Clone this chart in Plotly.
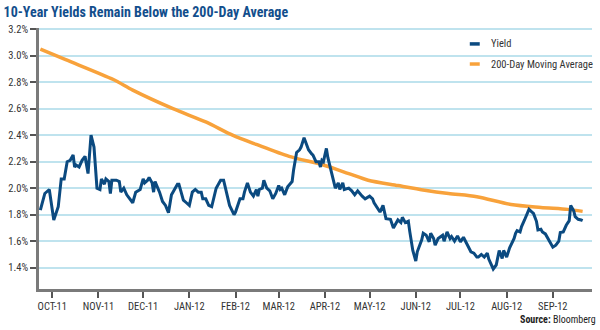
import pandas as pd
import plotly.graph_objects as go

start_date = "2011-09-23"

# 10-year yield (%) — day offsets from start_date and values
yield_days = [0, 3, 6, 9, 12, 14, 16, 18, 20, 22, 23, 24, 26, 28, 30, 32, 34, 36, 38, 40,
              41, 43, 44, 46, 47, 48, 51, 53, 54, 56, 58, 62, 64, 67, 69, 70, 72, 73, 75, 76,
              77, 80, 82, 84, 86, 88, 89, 92, 93, 96, 98, 100, 102, 104, 106, 108, 109, 111, 113, 115,
              118, 121, 123, 125, 127, 130, 131, 134, 136, 137, 139, 141, 143, 145, 146, 147, 149, 150, 152, 154,
              156, 158, 160, 161, 162, 164, 166, 169, 170, 172, 174, 175, 177, 178, 180, 182, 183, 185, 187, 188,
              189, 190, 192, 193, 195, 197, 198, 200, 201, 203, 204, 207, 209, 211, 213, 216, 218, 221, 223, 224,
              226, 228, 230, 232, 235, 237, 238, 240, 242, 243, 245, 247, 248, 250, 252, 253, 256, 257, 259, 261,
              262, 264, 265, 267, 270, 271, 273, 275, 276, 278, 280, 282, 284, 287, 289, 291, 293, 294, 296, 298,
              300, 301, 303, 304, 306, 308, 309, 310, 311, 313, 315, 316, 318, 319, 320, 322, 323, 325, 327, 328,
              330, 331, 333, 334, 336, 337, 339, 340, 342, 344, 346, 348, 349, 351, 353, 355, 356, 358, 359, 361,
              363, 364]
yield_vals = [1.835, 1.96, 1.99, 1.76, 1.86, 2.07, 2.07, 2.20, 2.21, 2.25, 2.16, 2.175, 2.16, 2.21, 2.24, 2.11, 2.40, 2.31, 2.00, 1.99,
              2.07, 2.03, 2.07, 2.05, 1.96, 2.06, 2.06, 2.05, 1.97, 2.00, 1.95, 1.89, 1.97, 1.99, 2.07, 2.04, 2.06, 2.08, 2.04, 1.97,
              2.05, 1.97, 1.90, 1.87, 1.815, 1.95, 1.97, 2.03, 2.03, 1.91, 1.89, 1.87, 1.97, 1.99, 1.97, 1.97, 1.92, 1.92, 1.87, 1.86,
              2.00, 2.06, 2.06, 1.96, 1.87, 1.80, 1.82, 1.92, 1.92, 1.97, 2.04, 1.97, 1.94, 1.99, 1.94, 1.99, 2.00, 2.06, 2.00, 1.98,
              1.92, 1.96, 2.02, 1.99, 2.00, 1.95, 2.01, 2.05, 2.14, 2.27, 2.29, 2.31, 2.38, 2.35, 2.29, 2.26, 2.25, 2.20, 2.20, 2.16,
              2.21, 2.20, 2.30, 2.23, 2.14, 2.05, 2.00, 2.04, 1.99, 2.04, 1.99, 2.00, 1.98, 1.95, 1.98, 1.94, 1.92, 1.94, 1.92, 1.89,
              1.85, 1.82, 1.87, 1.77, 1.765, 1.70, 1.72, 1.76, 1.74, 1.78, 1.74, 1.75, 1.67, 1.53, 1.45, 1.52, 1.61, 1.66, 1.645, 1.595,
              1.66, 1.62, 1.57, 1.62, 1.645, 1.60, 1.67, 1.62, 1.635, 1.60, 1.64, 1.595, 1.63, 1.57, 1.52, 1.51, 1.48, 1.48, 1.50, 1.48,
              1.51, 1.465, 1.41, 1.39, 1.42, 1.53, 1.50, 1.47, 1.53, 1.48, 1.55, 1.57, 1.62, 1.66, 1.68, 1.67, 1.71, 1.76, 1.81, 1.84,
              1.82, 1.81, 1.75, 1.685, 1.69, 1.67, 1.655, 1.635, 1.595, 1.555, 1.57, 1.60, 1.665, 1.67, 1.72, 1.755, 1.87, 1.83, 1.785, 1.765,
              1.76, 1.755]

# 200-day moving average (%)
ma_days = [0, 17, 49, 62, 89, 111, 129, 145, 167, 190, 207, 220, 240, 258, 274, 293, 316, 336, 354, 364]
ma_vals = [3.05, 2.97, 2.82, 2.74, 2.60, 2.50, 2.40, 2.33, 2.24, 2.175, 2.11, 2.06, 2.02, 1.985, 1.96, 1.936, 1.877, 1.855, 1.84, 1.825]

tick_dates = ["2011-10-01", "2011-11-01", "2011-12-01", "2012-01-01", "2012-02-01", "2012-03-01",
              "2012-04-01", "2012-05-01", "2012-06-01", "2012-07-01", "2012-08-01", "2012-09-01"]
tick_labels = ["OCT-11", "NOV-11", "DEC-11", "JAN-12", "FEB-12", "MAR-12",
               "APR-12", "MAY-12", "JUN-12", "JUL-12", "AUG-12", "SEP-12"]
y_ticks = [1.4, 1.6, 1.8, 2.0, 2.2, 2.4, 2.6, 2.8, 3.0, 3.2]
y_labels = ["1.4%", "1.6%", "1.8%", "2.0%", "2.2%", "2.4%", "2.6%", "2.8%", "3.0%", "3.2%"]

series_names = ["Yield", "200-Day Moving Average"]
title_text = "10-Year Yields Remain Below the 200-Day Average"

BLUE = "#0b4a80"
ORANGE = "#f8a23b"
FONT = "Roboto Condensed, Liberation Sans Narrow, Roboto, sans-serif"

t0 = pd.Timestamp(start_date)
yield_x = [t0 + pd.Timedelta(days=d) for d in yield_days]
ma_x = [t0 + pd.Timedelta(days=d) for d in ma_days]

fig = go.Figure()
fig.add_trace(go.Scatter(x=ma_x, y=ma_vals, mode="lines", name=series_names[1],
                         line=dict(color=ORANGE, width=3.5, shape="spline", smoothing=0.8),
                         showlegend=False))
fig.add_trace(go.Scatter(x=yield_x, y=yield_vals, mode="lines", name=series_names[0],
                         line=dict(color=BLUE, width=3), showlegend=False))

# manual legend
leg_y = [0.939, 0.862]
leg_cols = [BLUE, ORANGE]
for yy, col, name in zip(leg_y, leg_cols, series_names):
    fig.add_shape(type="line", xref="paper", yref="paper", x0=0.779, x1=0.797, y0=yy, y1=yy,
                  line=dict(color=col, width=3.5))
    fig.add_annotation(xref="paper", yref="paper", x=0.813, y=yy, text=name, showarrow=False,
                       xanchor="left", yanchor="middle", font=dict(family=FONT, size=10.5, color="#333333"))

fig.add_annotation(xref="paper", yref="paper", x=1.011, y=-0.115,
                   text="<b>Source:</b> Bloomberg", showarrow=False,
                   xanchor="right", yanchor="middle", font=dict(family=FONT, size=10, color="#222222"))

fig.update_layout(
    width=600, height=330,
    margin=dict(l=36, r=8, t=28, b=41),
    plot_bgcolor="white", paper_bgcolor="white",
    title=dict(text="<b>" + title_text + "</b>", x=0.006, xanchor="left", y=0.962, yanchor="middle",
               font=dict(family=FONT, size=14, color="#124e8c")),
    xaxis=dict(type="date", range=["2011-09-22 02:00", "2012-09-27 07:00"],
               tickvals=tick_dates, ticktext=tick_labels, ticks="outside", ticklen=6,
               tickcolor="#555555", tickwidth=1.5, showgrid=False, showline=True,
               linecolor="#7a7a7a", linewidth=2.5, zeroline=False,
               tickfont=dict(family=FONT, size=10.5, color="#333333")),
    yaxis=dict(range=[1.239, 3.209], tickvals=y_ticks, ticktext=y_labels, ticks="outside",
               ticklen=6, tickcolor="#555555", tickwidth=1.5, showgrid=True,
               gridcolor="#bfe3ee", gridwidth=1.5, showline=True, linecolor="#7a7a7a",
               linewidth=2.5, zeroline=False,
               tickfont=dict(family=FONT, size=10.5, color="#333333")),
)

fig.write_html("out.html")
